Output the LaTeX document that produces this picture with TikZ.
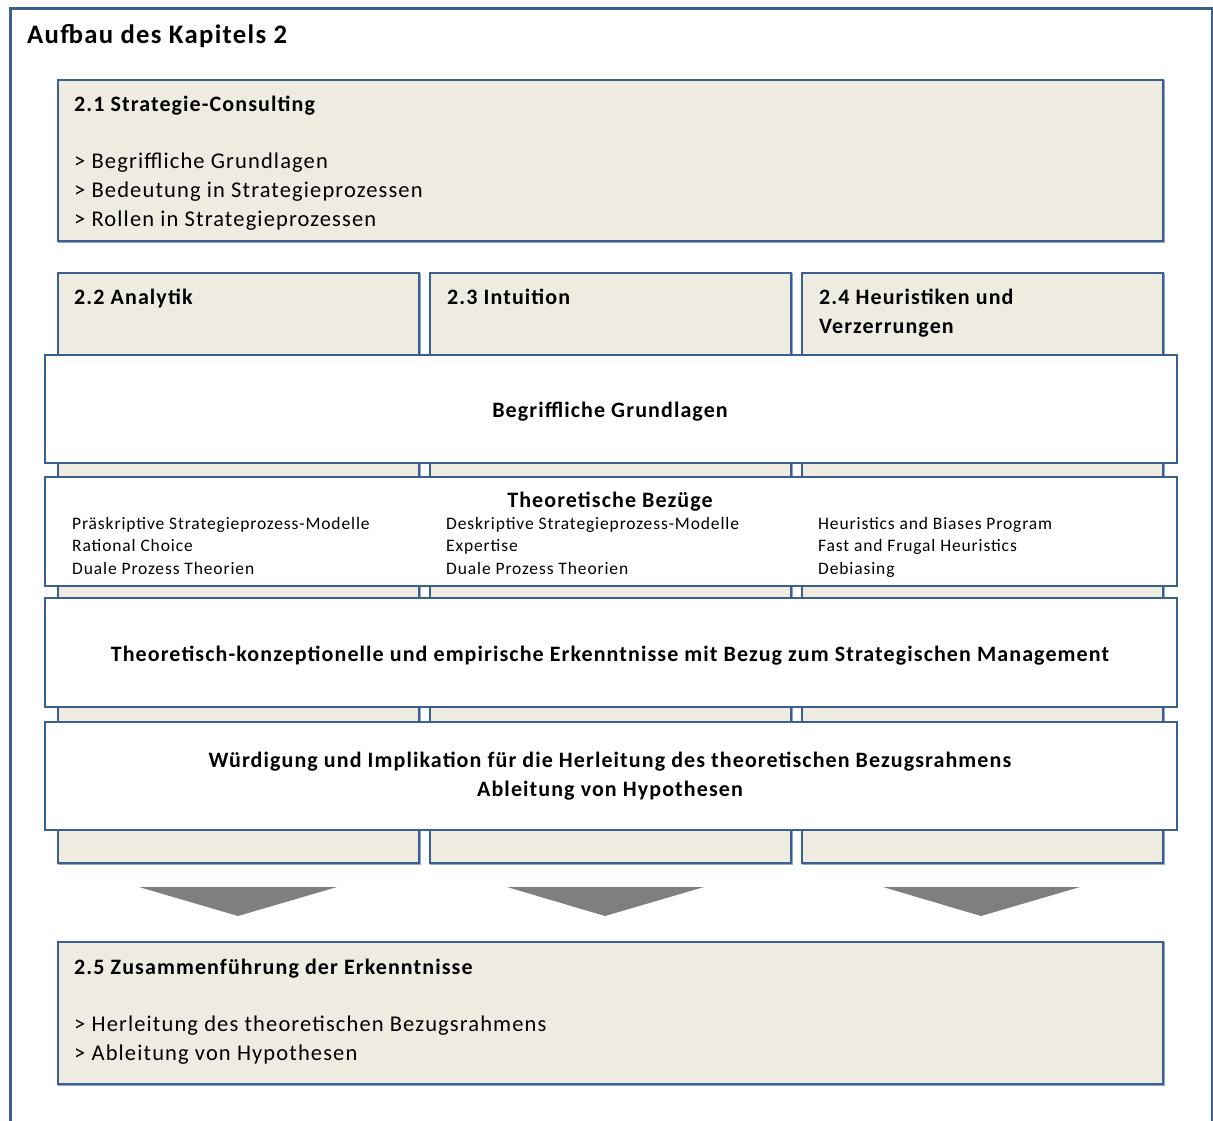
\documentclass[tikz,border=0pt]{standalone}
\usepackage{fontspec}
\setmainfont{Carlito}[LetterSpace=5]
\definecolor{frameblue}{HTML}{3B5F8E}
\definecolor{shadowblue}{HTML}{8FA7C8}
\definecolor{boxfill}{HTML}{EEECE1}
\definecolor{arrowgray}{HTML}{7F7F7F}
\tikzset{
  panel/.style={draw=frameblue, line width=2pt, fill=boxfill, anchor=north west, inner sep=0pt,
    preaction={draw=shadowblue, line width=1.5pt, transform canvas={shift={(1.2pt,-1.2pt)}}}},
  band/.style={draw=frameblue, line width=2pt, fill=white, anchor=north west, inner sep=0pt},
  lbl/.style={anchor=base west, inner sep=0pt, font=\fontsize{22.5}{27}\selectfont},
  hdr/.style={anchor=base west, inner sep=0pt, font=\fontsize{22}{29}\selectfont\bfseries},
  small/.style={anchor=base west, inner sep=0pt, font=\fontsize{17.5}{21}\selectfont},
  ctr/.style={anchor=base, inner sep=0pt, font=\fontsize{22}{29}\selectfont\bfseries},
  tri/.style={fill=arrowgray, draw=none}
}
\begin{document}
\begin{tikzpicture}[x=1pt,y=-1pt]
\useasboundingbox (0,0) rectangle (1213,1120);
\clip (0,0) rectangle (1213,1120);
% outer frame
\draw[frameblue, line width=3pt] (10,8.5) rectangle (1212,1135);
\node[anchor=base west, inner sep=0pt, font=\fontsize{26.7}{30}\selectfont\bfseries] (title) at (27,43) {Aufbau des Kapitels 2};
% 2.1
\node[panel, minimum width=1105pt, minimum height=161pt] (b21) at (57,79) {};
\node[hdr] (h21) at (74,111) {2.1 Strategie-Consulting};
\node[lbl] (l211) at (74,168) {> Begriffliche Grundlagen};
\node[lbl] (l212) at (74,197) {> Bedeutung in Strategieprozessen};
\node[lbl] (l213) at (74,226) {> Rollen in Strategieprozessen};
% columns
\node[panel, minimum width=361pt, minimum height=590pt] (c22) at (57,272) {};
\node[panel, minimum width=361pt, minimum height=590pt] (c23) at (429,272) {};
\node[panel, minimum width=361pt, minimum height=590pt] (c24) at (801,272) {};
\node[hdr] (h22) at (74,304) {2.2 Analytik};
\node[hdr] (h23) at (447,304) {2.3 Intuition};
\node[hdr] (h24a) at (819,304) {2.4 Heuristiken und};
\node[hdr] (h24b) at (819,333) {Verzerrungen};
% bands
\node[band, minimum width=1132pt, minimum height=108pt] (band1) at (44,354) {};
\node[ctr] (t1) at (610,417) {Begriffliche Grundlagen};
\node[band, minimum width=1132pt, minimum height=109pt] (band2) at (44,476) {};
\node[ctr] (t2) at (610,507) {Theoretische Bezüge};
\node[small] (a1) at (72,529) {Präskriptive Strategieprozess-Modelle};
\node[small] (a2) at (72,551.5) {Rational Choice};
\node[small] (a3) at (72,574) {Duale Prozess Theorien};
\node[small] (i1) at (446,529) {Deskriptive Strategieprozess-Modelle};
\node[small] (i2) at (446,551.5) {Expertise};
\node[small] (i3) at (446,574) {Duale Prozess Theorien};
\node[small] (v1) at (818,529) {Heuristics and Biases Program};
\node[small] (v2) at (818,551.5) {Fast and Frugal Heuristics};
\node[small] (v3) at (818,574) {Debiasing};
\node[band, minimum width=1132pt, minimum height=109pt] (band3) at (44,597) {};
\node[ctr] (t3) at (610,661) {Theoretisch-konzeptionelle und empirische Erkenntnisse mit Bezug zum Strategischen Management};
\node[band, minimum width=1132pt, minimum height=108pt] (band4) at (44,721) {};
\node[ctr] (t4a) at (610,767) {Würdigung und Implikation für die Herleitung des theoretischen Bezugsrahmens};
\node[ctr] (t4b) at (610,796) {Ableitung von Hypothesen};
% arrows
\fill[tri] (139,887) -- (337,887) -- (238,916) -- cycle;
\fill[tri] (507,887) -- (704,887) -- (605,916) -- cycle;
\fill[tri] (883,887) -- (1080,887) -- (981,916) -- cycle;
% 2.5
\node[panel, minimum width=1105pt, minimum height=142pt] (b25) at (57,941) {};
\node[hdr] (h25) at (74,974) {2.5 Zusammenführung der Erkenntnisse};
\node[lbl] (l251) at (74,1031) {> Herleitung des theoretischen Bezugsrahmens};
\node[lbl] (l252) at (74,1060) {> Ableitung von Hypothesen};
\end{tikzpicture}
\end{document}
